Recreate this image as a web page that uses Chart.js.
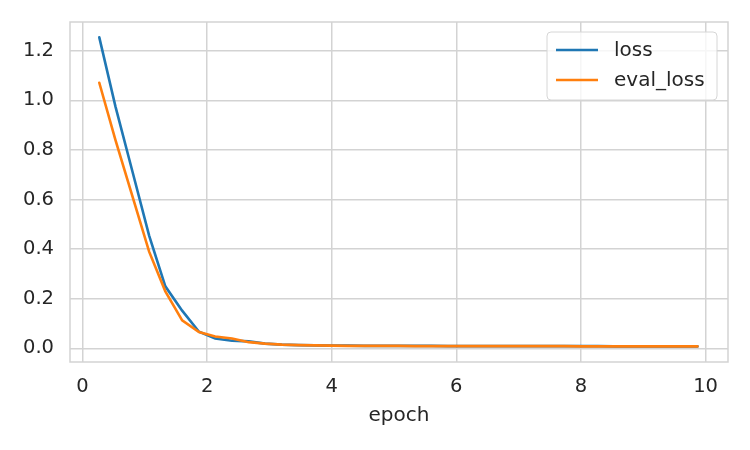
<!DOCTYPE html>
<html lang="en">
<head>
    <meta charset="UTF-8">
    <title>loss / eval_loss</title>
    <script src="https://cdn.jsdelivr.net/npm/chart.js"></script>
    <style>
        body { margin: 0; background: #fff; }
        #wrap { width: 750px; height: 450px; }
    </style>
</head>
<body>
    <div id="wrap"><canvas id="lossChart" width="750" height="450"></canvas></div>

    <script>
        // values
        const epochs = [0.27, 0.53, 0.8, 1.07, 1.33, 1.6, 1.87, 2.13, 2.4, 2.67, 2.93, 3.2, 3.47, 3.73,
            4.0, 4.27, 4.53, 4.8, 5.07, 5.33, 5.6, 5.87, 6.13, 6.4, 6.67, 6.93, 7.2, 7.47, 7.73,
            8.0, 8.27, 8.53, 8.8, 9.07, 9.33, 9.6, 9.87];
        const loss = [1.254, 0.975, 0.715, 0.455, 0.25, 0.152, 0.067, 0.04, 0.031, 0.028, 0.019, 0.015, 0.013, 0.012,
            0.011, 0.011, 0.010, 0.010, 0.010, 0.010, 0.010, 0.009, 0.009, 0.009, 0.009, 0.009, 0.009, 0.009, 0.009,
            0.009, 0.009, 0.008, 0.008, 0.008, 0.008, 0.008, 0.008];
        const evalLoss = [1.071, 0.84, 0.615, 0.39, 0.23, 0.113, 0.066, 0.048, 0.04, 0.025, 0.019, 0.015, 0.013, 0.012,
            0.011, 0.010, 0.010, 0.010, 0.010, 0.009, 0.009, 0.009, 0.009, 0.009, 0.009, 0.009, 0.009, 0.009, 0.009,
            0.008, 0.008, 0.008, 0.008, 0.008, 0.008, 0.008, 0.008];
        const xTicks = [0, 2, 4, 6, 8, 10];
        const yTicks = [0.0, 0.2, 0.4, 0.6, 0.8, 1.0, 1.2];

        const gridColor = "#d3d3d3";
        const textColor = "#262626";
        const fontFamily = "'DejaVu Sans', sans-serif";

        const toPoints = (xs, ys) => xs.map((x, i) => ({ x: x, y: ys[i] }));

        // frame on all four sides + boxed legend, like seaborn whitegrid
        const framePlugin = {
            id: "frame",
            beforeDatasetsDraw(chart) {
                const { ctx, chartArea: a } = chart;
                ctx.save();
                ctx.strokeStyle = gridColor;
                ctx.lineWidth = 1.5;
                ctx.strokeRect(a.left, a.top, a.right - a.left, a.bottom - a.top);
                ctx.restore();
            },
            afterDatasetsDraw(chart) {
                const ctx = chart.ctx;
                const x = 547, y = 32, w = 170, h = 68, r = 4;
                ctx.save();
                ctx.beginPath();
                ctx.roundRect(x, y, w, h, r);
                ctx.fillStyle = "rgba(255,255,255,0.8)";
                ctx.fill();
                ctx.strokeStyle = "#d6d6d6";
                ctx.lineWidth = 1;
                ctx.stroke();
                ctx.font = "20px " + fontFamily;
                ctx.textBaseline = "middle";
                chart.data.datasets.forEach((ds, i) => {
                    const cy = 50 + i * 30;
                    ctx.strokeStyle = ds.borderColor;
                    ctx.lineWidth = 2.6;
                    ctx.beginPath();
                    ctx.moveTo(556, cy);
                    ctx.lineTo(598, cy);
                    ctx.stroke();
                    ctx.fillStyle = textColor;
                    ctx.fillText(ds.label, 614, cy + 1);
                });
                ctx.restore();
            }
        };

        const noPad = s => { s.paddingTop = 0; s.paddingBottom = 0; s.paddingLeft = 0; s.paddingRight = 0; };

        new Chart(document.getElementById("lossChart"), {
            type: "line",
            data: {
                datasets: [
                    { label: "loss", data: toPoints(epochs, loss), borderColor: "#1f77b4", order: 1 },
                    { label: "eval_loss", data: toPoints(epochs, evalLoss), borderColor: "#ff7f0e", order: 0 }
                ]
            },
            options: {
                responsive: false,
                animation: false,
                layout: { padding: { left: 0, right: 22, top: 22, bottom: 0 } },
                elements: {
                    line: { borderWidth: 2.6, tension: 0, fill: false, borderCapStyle: "round" },
                    point: { radius: 0 }
                },
                plugins: { legend: { display: false }, tooltip: { enabled: false } },
                scales: {
                    x: {
                        type: "linear",
                        min: -0.2,
                        max: 10.36,
                        afterFit: s => { s.height = 88; noPad(s); },
                        afterBuildTicks: s => { s.ticks = xTicks.map(v => ({ value: v })); },
                        grid: { color: gridColor, lineWidth: 1.5, drawTicks: false },
                        border: { display: false },
                        ticks: {
                            padding: 13,
                            color: textColor,
                            font: { family: fontFamily, size: 19.5 },
                            callback: v => String(v)
                        },
                        title: {
                            display: true,
                            text: "epoch",
                            color: textColor,
                            font: { family: fontFamily, size: 20 },
                            padding: { top: 0, bottom: 22 }
                        }
                    },
                    y: {
                        min: -0.055,
                        max: 1.316,
                        afterFit: s => { s.width = 70; noPad(s); },
                        afterBuildTicks: s => { s.ticks = yTicks.map(v => ({ value: v })); },
                        grid: { color: gridColor, lineWidth: 1.5, drawTicks: false },
                        border: { display: false },
                        ticks: {
                            padding: 16,
                            color: textColor,
                            font: { family: fontFamily, size: 19.5 },
                            callback: v => v.toFixed(1)
                        }
                    }
                }
            },
            plugins: [framePlugin]
        });
    </script>
</body>
</html>
